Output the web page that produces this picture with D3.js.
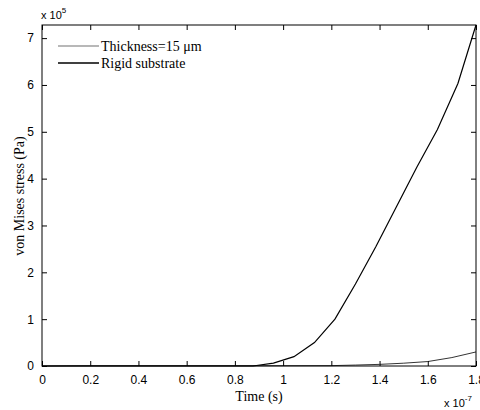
<!DOCTYPE html>
<html><head><meta charset="utf-8">
<script src="https://cdn.jsdelivr.net/npm/d3@7"></script>
<style>body{margin:0;background:#fff}svg{display:block}</style>
</head><body>
<svg id="c" width="480" height="410"></svg>
<script>
const xTicks = [0,0.2,0.4,0.6,0.8,1,1.2,1.4,1.6,1.8];
const yTicks = [0,1,2,3,4,5,6,7];
const rigidT = [0,0.2,0.4,0.6,0.8,0.875,0.96,1.045,1.13,1.215,1.30,1.385,1.47,1.555,1.64,1.725,1.80];
const rigidV = [0,0,0,0,0,0,0.06,0.2,0.5,1.0,1.75,2.55,3.4,4.25,5.05,6.03,7.28];
const thickT = [0,0.1,0.2,0.6,0.9,1.2,1.3,1.4,1.5,1.6,1.7,1.8];
const thickV = [0,0.004,0.006,0.006,0.006,0.008,0.02,0.035,0.06,0.095,0.18,0.30];
const seriesNames = ["Thickness=15 μm","Rigid substrate"];

const svg = d3.select("#c");
const L=42, R=476, T=25, B=366;
const x = d3.scaleLinear().domain([0,1.8]).range([L,R]);
const y = d3.scaleLinear().domain([0,7.28]).range([B,T]);

svg.append("rect").attr("x",L).attr("y",T).attr("width",R-L).attr("height",B-T)
  .attr("fill","none").attr("stroke","#000").attr("stroke-width",1);

const tl=5;
const gx = svg.append("g").attr("transform",`translate(0,${B})`)
  .call(d3.axisBottom(x).tickValues(xTicks).tickSize(-tl).tickPadding(4+tl).tickFormat(d3.format("")));
const gxt = svg.append("g").attr("transform",`translate(0,${T})`)
  .call(d3.axisTop(x).tickValues(xTicks).tickSize(-tl).tickFormat(""));
const gy = svg.append("g").attr("transform",`translate(${L},0)`)
  .call(d3.axisLeft(y).tickValues(yTicks).tickSize(-tl).tickPadding(3+tl).tickFormat(d3.format("")));
const gyr = svg.append("g").attr("transform",`translate(${R},0)`)
  .call(d3.axisRight(y).tickValues(yTicks).tickSize(-tl).tickFormat(""));
[gx,gxt,gy,gyr].forEach(g=>{
  g.select(".domain").remove();
  g.selectAll("line").attr("stroke","#000");
  g.selectAll("text").attr("font-family","Liberation Sans, Arial, sans-serif").attr("font-size",12).attr("fill","#000");
});

const line = d3.line().x(d=>x(d[0])).y(d=>y(d[1]));
svg.append("clipPath").attr("id","cp").append("rect").attr("x",L).attr("y",T-1).attr("width",R-L+1).attr("height",B-T+2);
svg.append("path").datum(thickT.map((t,i)=>[t,thickV[i]])).attr("d",line)
  .attr("fill","none").attr("stroke","#000").attr("stroke-width",0.8).attr("clip-path","url(#cp)");
svg.append("path").datum(rigidT.map((t,i)=>[t,rigidV[i]])).attr("d",line)
  .attr("fill","none").attr("stroke","#000").attr("stroke-width",1.2).attr("clip-path","url(#cp)");

const lg = svg.append("g");
[[46,0.7,"#333"],[63,1.3,"#000"]].forEach((s,i)=>{
  lg.append("line").attr("x1",58).attr("x2",99).attr("y1",s[0]).attr("y2",s[0])
    .attr("stroke",s[2]).attr("stroke-width",s[1]);
  lg.append("text").attr("x",101).attr("y",s[0]+5).text(seriesNames[i])
    .attr("font-family","Liberation Serif, Times New Roman, serif").attr("font-size",14);
});

svg.append("text").attr("x",259).attr("y",401).attr("text-anchor","middle")
  .attr("font-family","Liberation Serif, Times New Roman, serif").attr("font-size",14).text("Time (s)");
svg.append("text").attr("transform","translate(24,196) rotate(-90)").attr("text-anchor","middle")
  .attr("font-family","Liberation Serif, Times New Roman, serif").attr("font-size",14).text("von Mises stress (Pa)");

const e1 = svg.append("text").attr("x",41).attr("y",19)
  .attr("font-family","Liberation Sans, Arial, sans-serif").attr("font-size",11);
e1.append("tspan").text("x 10");
e1.append("tspan").attr("dy",-6).attr("font-size",8).text("5");
const e2 = svg.append("text").attr("x",444).attr("y",407)
  .attr("font-family","Liberation Sans, Arial, sans-serif").attr("font-size",11);
e2.append("tspan").text("x 10");
e2.append("tspan").attr("dy",-6).attr("font-size",8).text("-7");
</script>
</body></html>
